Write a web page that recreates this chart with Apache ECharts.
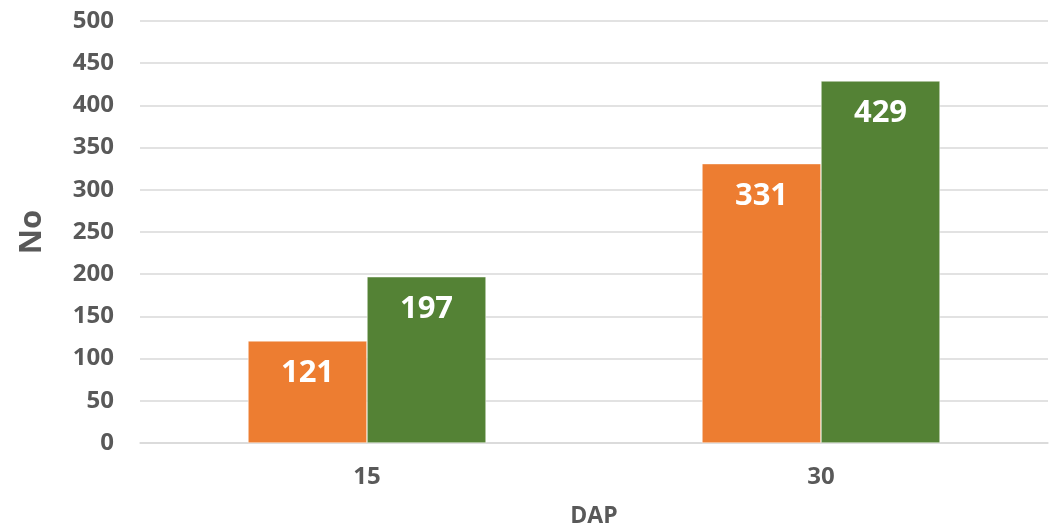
<!DOCTYPE html>
<html>
<head>
<meta charset="utf-8">
<script src="https://cdn.jsdelivr.net/npm/echarts@6/dist/echarts.min.js"></script>
<style>
  html, body { margin: 0; padding: 0; background: #fff; }
  #chart { width: 1056px; height: 531px; }
</style>
</head>
<body>
<div id="chart"></div>
<script>
  // data
  const categories = ['15', '30'];
  const seriesA = [121, 331];   // orange
  const seriesB = [197, 429];   // green
  const yTicks = { min: 0, max: 500, interval: 50 };

  const font = '"Open Sans", "DejaVu Sans", sans-serif';
  const grey = '#595959';

  const labelStyle = {
    show: true,
    position: 'insideTop',
    distance: 17,
    color: '#fff',
    fontFamily: font,
    fontWeight: 'bold',
    fontSize: 31
  };

  let chart = echarts.init(document.getElementById('chart'));
  chart.setOption({
    animation: false,
    grid: { left: 140, right: 8, top: 21, bottom: 88, containLabel: false, outerBoundsMode: 'none' },
    xAxis: {
      type: 'category',
      data: categories,
      name: 'DAP',
      nameLocation: 'middle',
      nameGap: 62,
      nameTextStyle: { color: grey, fontFamily: font, fontWeight: 'bold', fontSize: 23 },
      axisLine: { lineStyle: { color: '#d9d9d9', width: 1.5 } },
      axisTick: { show: false },
      axisLabel: { color: grey, fontFamily: font, fontWeight: 'bold', fontSize: 24, margin: 22 }
    },
    yAxis: {
      type: 'value',
      min: yTicks.min,
      max: yTicks.max,
      interval: yTicks.interval,
      name: 'No',
      nameLocation: 'middle',
      nameGap: 92,
      nameRotate: 90,
      nameTextStyle: { color: grey, fontFamily: font, fontWeight: 'bold', fontSize: 31 },
      axisLine: { show: false },
      axisTick: { show: false },
      splitLine: { lineStyle: { color: '#d9d9d9', width: 1.5 } },
      axisLabel: { color: grey, fontFamily: font, fontWeight: 'bold', fontSize: 24, margin: 26 }
    },
    series: [
      {
        type: 'bar',
        data: seriesA,
        barWidth: 119,
        barGap: '0%',
        itemStyle: { color: '#ED7D31', borderColor: '#fff', borderWidth: 0.5 },
        label: labelStyle
      },
      {
        type: 'bar',
        data: seriesB,
        barWidth: 119,
        itemStyle: { color: '#548235', borderColor: '#fff', borderWidth: 0.5 },
        label: labelStyle
      }
    ]
  });
</script>
</body>
</html>
